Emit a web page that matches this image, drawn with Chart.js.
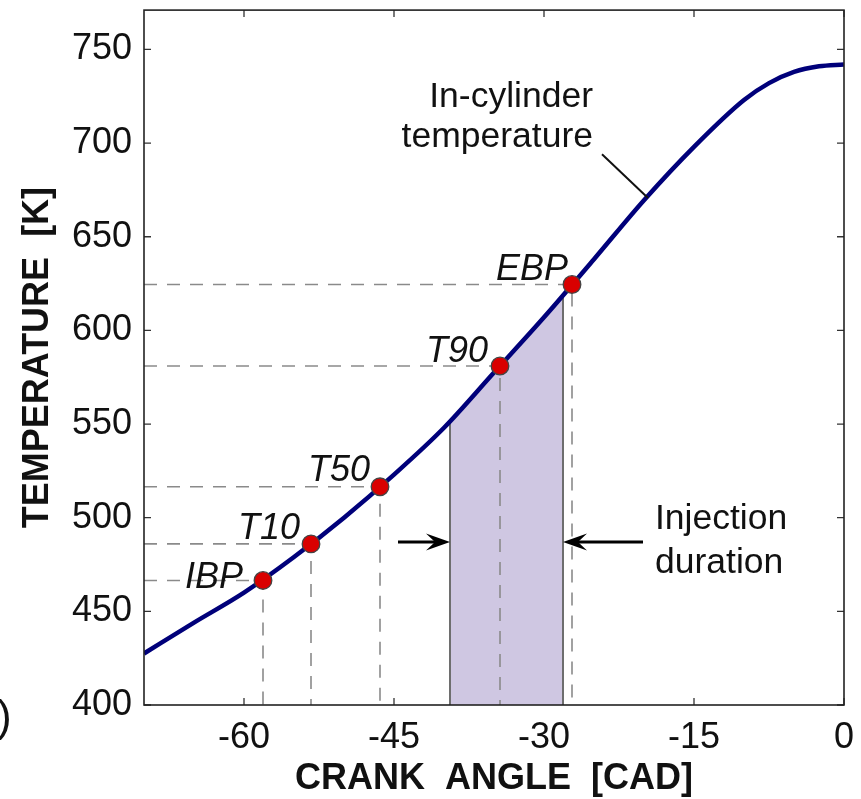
<!DOCTYPE html>
<html>
<head>
<meta charset="utf-8">
<script src="https://cdn.jsdelivr.net/npm/chart.js@4.4.1/dist/chart.umd.min.js"></script>
<style>
  html, body { margin: 0; padding: 0; background: #fff; }
  #wrap { width: 861px; height: 799px; }
</style>
</head>
<body>
<div id="wrap"><canvas id="chart" width="861" height="799"></canvas></div>
<script>
// in-cylinder temperature curve
const crankAngle = [-70, -65, -60, -55, -50, -45, -40, -35, -30, -25, -20, -15, -10, -7.5, -5, -2.5, 0];
const temperature = [427.5, 444, 460, 479, 500, 523, 548, 577.5, 607, 638, 669.5, 698, 723, 732, 738, 741, 742];

// distillation points
const markerNames = ["IBP", "T10", "T50", "T90", "EBP"];
const markerAngle = [-58.1, -53.3, -46.4, -34.4, -27.2];
const markerTemp = [466.5, 486, 516.5, 581, 624.5];

// injection window (shaded), edges and curve under it
const shadeAngle = [-39.4, -35, -34.4, -30, -28.1];
const shadeTemp = [551, 577.5, 581, 607, 618];
const arrowTemp = 487;

const xTicks = [-60, -45, -30, -15, 0];
const yTicks = [400, 450, 500, 550, 600, 650, 700, 750];
const xMin = -70, xMax = 0, yMin = 400, yMax = 771;

const FONT = "'Liberation Sans', Arial, Helvetica, sans-serif";
const NAVY = "#00007a";

const curveData = crankAngle.map((a, i) => ({ x: a, y: temperature[i] }));
const markerData = markerAngle.map((a, i) => ({ x: a, y: markerTemp[i] }));
const shadeData = [{ x: shadeAngle[0], y: yMin }]
  .concat(shadeAngle.map((a, i) => ({ x: a, y: shadeTemp[i] })))
  .concat([{ x: shadeAngle[shadeAngle.length - 1], y: yMin }]);

// dashed guides: from y axis to the point, then down to the x axis
const guideSets = markerAngle.map((a, i) => ({
  type: "line",
  data: [{ x: xMin, y: markerTemp[i] }, { x: a, y: markerTemp[i] }, { x: a, y: yMin }],
  borderColor: "#8a8a8a",
  borderWidth: 1.6,
  borderDash: [13, 10],
  pointRadius: 0,
  tension: 0,
  order: 3,
}));

const overlay = {
  id: "overlay",
  beforeDatasetsDraw(chart) {
    const { ctx, chartArea: a, scales: { x, y } } = chart;
    ctx.save();
    ctx.strokeStyle = "#333";
    ctx.lineWidth = 1.3;
    ctx.beginPath();
    x.ticks.forEach((t) => {
      const px = x.getPixelForValue(t.value);
      ctx.moveTo(px, a.bottom); ctx.lineTo(px, a.bottom - 7);
      ctx.moveTo(px, a.top); ctx.lineTo(px, a.top + 7);
    });
    y.ticks.forEach((t) => {
      const py = y.getPixelForValue(t.value);
      ctx.moveTo(a.left, py); ctx.lineTo(a.left + 7, py);
      ctx.moveTo(a.right, py); ctx.lineTo(a.right - 7, py);
    });
    ctx.stroke();
    ctx.restore();
  },
  afterDatasetsDraw(chart) {
    const { ctx, chartArea: a, scales: { x, y } } = chart;
    ctx.save();
    // frame
    ctx.strokeStyle = "#222";
    ctx.lineWidth = 1.6;
    ctx.strokeRect(a.left, a.top, a.right - a.left, a.bottom - a.top);

    // point labels
    const offs = [[-20, 8], [-11, -5], [-10, -6], [-12, -4], [-4, -5]];
    ctx.fillStyle = "#111";
    ctx.font = "italic 36px " + FONT;
    ctx.textAlign = "right";
    ctx.textBaseline = "alphabetic";
    markerNames.forEach((n, i) => {
      const px = x.getPixelForValue(markerAngle[i]);
      const py = y.getPixelForValue(markerTemp[i]);
      ctx.fillText(n, px + offs[i][0], py + offs[i][1]);
    });

    // curve annotation
    ctx.font = "35.5px " + FONT;
    const tx = x.getPixelForValue(-25.1);
    ctx.fillText("In-cylinder", tx, y.getPixelForValue(719));
    ctx.fillText("temperature", tx, y.getPixelForValue(698));
    ctx.strokeStyle = "#111";
    ctx.lineWidth = 2;
    ctx.beginPath();
    ctx.moveTo(x.getPixelForValue(-24.2), y.getPixelForValue(694));
    ctx.lineTo(x.getPixelForValue(-19.6), y.getPixelForValue(670.7));
    ctx.stroke();

    // injection duration arrows
    const ay = y.getPixelForValue(arrowTemp);
    const left = x.getPixelForValue(shadeAngle[0]);
    const right = x.getPixelForValue(shadeAngle[shadeAngle.length - 1]);
    drawArrow(ctx, left - 52, ay, left, ay);
    drawArrow(ctx, right + 80, ay, right, ay);
    ctx.textAlign = "left";
    ctx.fillStyle = "#111";
    const jx = x.getPixelForValue(-18.9);
    ctx.fillText("Injection", jx, y.getPixelForValue(494));
    ctx.fillText("duration", jx, y.getPixelForValue(470.7));

    // cut-off panel letter
    ctx.font = "44px " + FONT;
    ctx.fillText(")", -3, 731);
    ctx.restore();
  },
};

function drawArrow(ctx, x1, y1, x2, y2) {
  const dir = Math.sign(x2 - x1);
  ctx.strokeStyle = "#000";
  ctx.lineWidth = 3;
  ctx.beginPath();
  ctx.moveTo(x1, y1);
  ctx.lineTo(x2 - dir * 12, y2);
  ctx.stroke();
  ctx.fillStyle = "#000";
  ctx.beginPath();
  ctx.moveTo(x2, y2);
  ctx.lineTo(x2 - dir * 24, y2 - 8.5);
  ctx.lineTo(x2 - dir * 15, y2);
  ctx.lineTo(x2 - dir * 24, y2 + 8.5);
  ctx.closePath();
  ctx.fill();
}

const tickFont = { family: FONT, size: 36 };
const titleFont = { family: FONT, size: 36, weight: "bold", lineHeight: 1 };

const chart = new Chart(document.getElementById("chart"), {
  type: "line",
  data: {
    datasets: [
      {
        data: markerData,
        showLine: false,
        pointRadius: 8.8,
        pointBackgroundColor: "#d90000",
        pointBorderColor: "#444",
        pointBorderWidth: 1.3,
        order: 0,
      },
      {
        data: curveData,
        borderColor: NAVY,
        borderWidth: 4.5,
        pointRadius: 0,
        cubicInterpolationMode: "monotone",
        order: 1,
      },
      ...guideSets,
      {
        data: shadeData,
        borderColor: "#6e6e6e",
        borderWidth: 2,
        backgroundColor: "#cfc7e2",
        fill: { value: yMin },
        pointRadius: 0,
        tension: 0,
        order: 4,
      },
    ],
  },
  options: {
    responsive: false,
    devicePixelRatio: 1,
    animation: false,
    events: [],
    layout: { padding: { top: 7, right: 17, left: 0, bottom: 0 } },
    plugins: { legend: { display: false }, tooltip: { enabled: false } },
    scales: {
      x: {
        type: "linear",
        min: xMin,
        max: xMax,
        afterBuildTicks: (s) => { s.ticks = xTicks.map((v) => ({ value: v })); },
        afterFit: (s) => {
          s.height = 94;
          s.paddingLeft = 0; s.paddingRight = 0;
        },
        grid: { display: false, drawTicks: false },
        border: { display: false },
        ticks: { font: tickFont, color: "#111", padding: 11, maxRotation: 0, autoSkip: false },
        title: {
          display: true,
          text: "CRANK  ANGLE  [CAD]",
          font: titleFont,
          color: "#111",
          padding: { top: 0, bottom: 2 },
        },
      },
      y: {
        type: "linear",
        min: yMin,
        max: yMax,
        afterBuildTicks: (s) => { s.ticks = yTicks.map((v) => ({ value: v })); },
        afterFit: (s) => {
          s.width = 144;
          s.paddingTop = 0; s.paddingBottom = 0;
        },
        grid: { display: false, drawTicks: false },
        border: { display: false },
        ticks: { font: tickFont, color: "#111", padding: 12, autoSkip: false },
        title: {
          display: true,
          text: "TEMPERATURE  [K]",
          font: titleFont,
          color: "#111",
          padding: { top: 20, bottom: 0 },
        },
      },
    },
  },
  plugins: [overlay],
});
</script>
</body>
</html>
